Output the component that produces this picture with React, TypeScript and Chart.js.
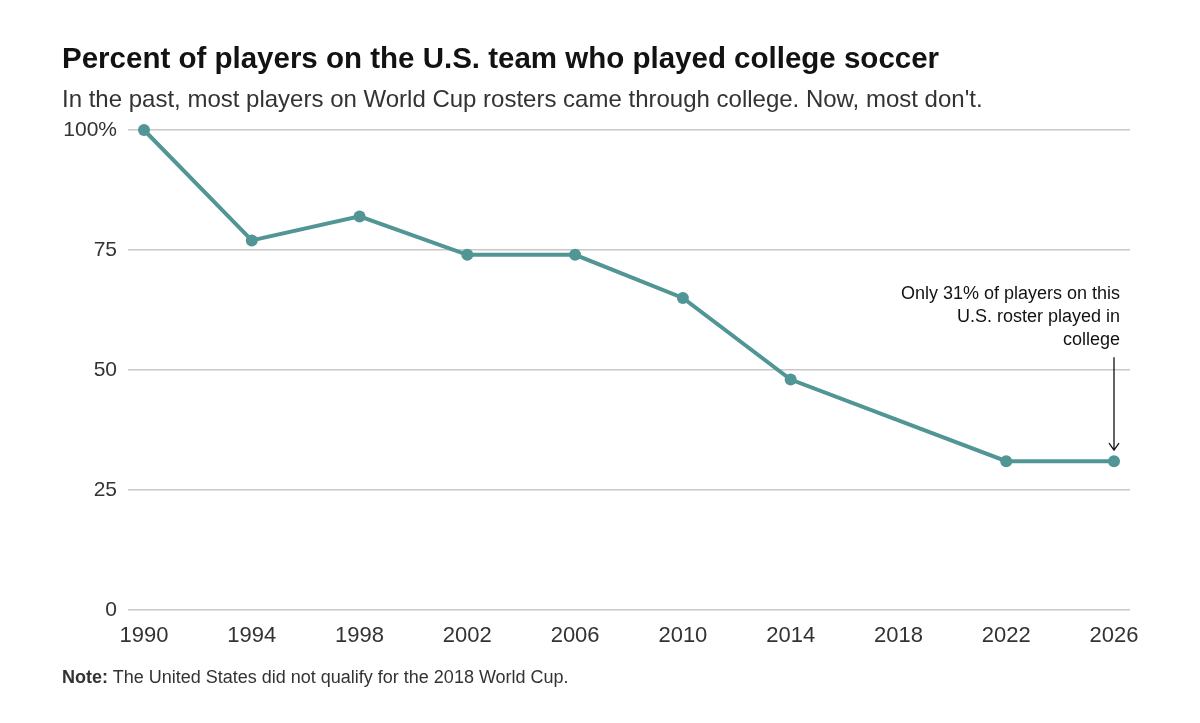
import React, { useEffect, useRef } from "react";
import { Chart, registerables } from "chart.js";

Chart.register(...registerables);

const years = [1990, 1994, 1998, 2002, 2006, 2010, 2014, 2022, 2026];
const percentCollege = [100, 77, 82, 74, 74, 65, 48, 31, 31];
const xTickYears = [1990, 1994, 1998, 2002, 2006, 2010, 2014, 2018, 2022, 2026];
const yTicks = [0, 25, 50, 75, 100];
const annotationLines = ["Only 31% of players on this", "U.S. roster played in", "college"];

const LINE_COLOR = "#519595";
const TEXT_COLOR = "#333333";

const annotationPlugin = {
  id: "annotationArrow",
  afterDatasetsDraw(chart: any) {
    const { ctx, scales } = chart;
    const idx = years.length - 1;
    const px = scales.x.getPixelForValue(years[idx]);
    const py = scales.y.getPixelForValue(percentCollege[idx]);
    ctx.save();
    ctx.font = '18px "Liberation Sans", sans-serif';
    ctx.fillStyle = "#121212";
    ctx.textAlign = "right";
    ctx.textBaseline = "middle";
    const rightX = px + 6;
    const firstY = py - 167;
    annotationLines.forEach((t, i) => ctx.fillText(t, rightX, firstY + i * 23));
    const top = firstY + 2 * 23 + 17;
    const bottom = py - 11;
    ctx.strokeStyle = "#121212";
    ctx.lineWidth = 1.3;
    ctx.beginPath();
    ctx.moveTo(px, top);
    ctx.lineTo(px, bottom);
    ctx.moveTo(px - 5, bottom - 7);
    ctx.lineTo(px, bottom);
    ctx.lineTo(px + 5, bottom - 7);
    ctx.stroke();
    ctx.restore();
  },
};

function App() {
  const ref = useRef<HTMLCanvasElement>(null);
  useEffect(() => {
    if (!ref.current) return;
    const chart = new Chart(ref.current, {
      type: "line",
      data: {
        datasets: [
          {
            data: years.map((y, i) => ({ x: y, y: percentCollege[i] })),
            borderColor: LINE_COLOR,
            backgroundColor: LINE_COLOR,
            borderWidth: 4,
            pointRadius: 6,
            pointBackgroundColor: LINE_COLOR,
            pointBorderWidth: 0,
            tension: 0,
            clip: false,
          } as any,
        ],
      },
      options: {
        animation: false,
        responsive: false,
        devicePixelRatio: 1,
        layout: { padding: { top: 130, right: 70, left: 0, bottom: 0 } },
        plugins: { legend: { display: false }, tooltip: { enabled: false } },
        scales: {
          x: {
            type: "linear",
            min: 1990 - 16 / (970 / 36),
            max: 2026 + 16 / (970 / 36),
            grid: { display: false },
            border: { display: false },
            afterBuildTicks: (s: any) => {
              s.ticks = xTickYears.map((v) => ({ value: v }));
            },
            afterFit: (s: any) => {
              s.height = 113;
            },
            ticks: {
              autoSkip: false,
              maxRotation: 0,
              padding: 5,
              color: TEXT_COLOR,
              font: { family: '"Liberation Sans", sans-serif', size: 22 },
              callback: (v: any) => String(v),
            },
          },
          y: {
            min: 0,
            max: 100,
            grid: { color: "#c8c8c8", lineWidth: 1.5, drawTicks: false },
            border: { display: false },
            afterBuildTicks: (s: any) => {
              s.ticks = yTicks.map((v) => ({ value: v }));
            },
            afterFit: (s: any) => {
              s.width = 128;
            },
            ticks: {
              padding: 11,
              color: TEXT_COLOR,
              font: { family: '"Liberation Sans", sans-serif', size: 21 },
              callback: (v: any) => (v === 100 ? "100%" : String(v)),
            },
          },
        },
      },
      plugins: [annotationPlugin],
    });
    return () => chart.destroy();
  }, []);

  return (
    <div style={{ position: "fixed", left: 0, top: 0, width: 1200, height: 723, background: "#fff", overflow: "hidden" }}>
      <canvas ref={ref} width={1200} height={723} style={{ position: "absolute", left: 0, top: 0 }} />
      <div
        style={{
          position: "absolute",
          left: 62,
          top: 40,
          fontFamily: '"Liberation Sans", sans-serif',
          fontWeight: 700,
          fontSize: 29.5,
          color: "#121212",
          whiteSpace: "nowrap",
          lineHeight: "36px",
        }}
      >
        Percent of players on the U.S. team who played college soccer
      </div>
      <div
        style={{
          position: "absolute",
          left: 62,
          top: 84,
          fontFamily: '"Liberation Sans", sans-serif',
          fontSize: 24,
          color: TEXT_COLOR,
          whiteSpace: "nowrap",
          lineHeight: "30px",
        }}
      >
        In the past, most players on World Cup rosters came through college. Now, most don't.
      </div>
      <div
        style={{
          position: "absolute",
          left: 62,
          top: 665,
          fontFamily: '"Liberation Sans", sans-serif',
          fontSize: 18,
          color: TEXT_COLOR,
          whiteSpace: "nowrap",
          lineHeight: "24px",
        }}
      >
        <b>Note:</b> The United States did not qualify for the 2018 World Cup.
      </div>
    </div>
  );
}

export default App;
